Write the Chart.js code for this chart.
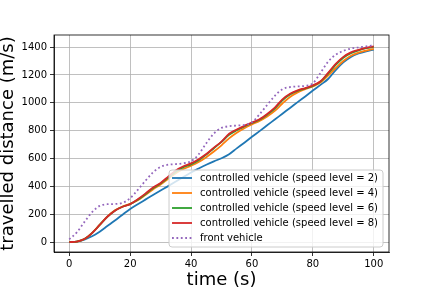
<!DOCTYPE html>
<html>
<head>
<meta charset="utf-8">
<script src="https://cdn.jsdelivr.net/npm/chart.js@4"></script>
<style>
  body { margin: 0; background: #fff; }
  canvas { display: block; }
</style>
</head>
<body>
<canvas id="myChart" width="432" height="288"></canvas>
<script>
// tijd (s)
var time = [0, 2.5, 5, 7.5, 10, 12.5, 15, 17.5, 20, 22.5, 25, 27.5, 30, 32.5, 35, 37.5, 40,
  42.5, 45, 47.5, 50, 52.5, 55, 57.5, 60, 62.5, 65, 67.5, 70, 72.5, 75, 77.5, 80,
  82.5, 85, 87.5, 90, 92.5, 95, 97.5, 100];

var speed2 = [0, 3, 18, 42, 75, 115, 155, 197, 238, 272, 305, 338, 370, 402, 435, 468, 500,
  528, 555, 580, 602, 631, 673, 714, 756, 797, 839, 880, 922, 963, 1005, 1046, 1088,
  1129, 1171, 1235, 1290, 1330, 1354, 1370, 1382];

var speed4 = [0, 4, 22, 66, 124, 183, 228, 256, 274, 300, 338, 378, 414, 455, 495, 525, 548,
  575, 610, 650, 695, 745, 785, 818, 845, 870, 902, 942, 995, 1042, 1075, 1098, 1118,
  1145, 1195, 1250, 1300, 1338, 1360, 1375, 1388];

var speed6 = [0, 4, 22, 65, 123, 181, 226, 254, 273, 304, 344, 387, 420, 463, 506, 538, 558,
  588, 628, 674, 720, 770, 803, 830, 855, 879, 915, 958, 1018, 1060, 1086, 1103, 1122,
  1152, 1210, 1272, 1324, 1356, 1377, 1392, 1402];

var speed8 = [0, 4, 22, 65, 123, 182, 226, 254, 273, 308, 348, 392, 425, 470, 515, 545, 565,
  595, 632, 678, 722, 778, 808, 835, 858, 882, 920, 965, 1025, 1065, 1090, 1106, 1125,
  1155, 1215, 1280, 1330, 1362, 1380, 1395, 1405];

var front = [20, 70, 145, 215, 260, 272, 274, 282, 315, 375, 440, 500, 540, 556, 560, 566, 580,
  630, 710, 780, 820, 832, 837, 842, 860, 918, 985, 1050, 1098, 1113, 1118, 1122, 1140,
  1215, 1295, 1345, 1373, 1390, 1398, 1405, 1415];

var labels = [
  'controlled vehicle (speed level = 2)',
  'controlled vehicle (speed level = 4)',
  'controlled vehicle (speed level = 6)',
  'controlled vehicle (speed level = 8)',
  'front vehicle'
];
var colors = ['#1f77b4', '#ff7f0e', '#2ca02c', '#d62728', '#9467bd'];
var xTicks = [0, 20, 40, 60, 80, 100];
var yTicks = [0, 200, 400, 600, 800, 1000, 1200, 1400];

function pairs(ys) {
  return time.map(function(t, i) { return {x: t, y: ys[i]}; });
}

var series = [speed2, speed4, speed6, speed8, front];
var datasets = series.map(function(s, i) {
  return {
    label: labels[i],
    data: pairs(s),
    borderColor: colors[i],
    backgroundColor: colors[i],
    borderWidth: 1.8,
    borderDash: i === 4 ? [1.8, 2.6] : [],
    pointRadius: 0,
    fill: false,
    cubicInterpolationMode: 'monotone',
    order: 4 - i   // laatste serie bovenop, zoals matplotlib
  };
});

// kader om het plotgebied + legenda in de hoek
var framePlugin = {
  id: 'frame',
  afterDraw: function(chart) {
    var ctx = chart.ctx, a = chart.chartArea;
    ctx.save();
    ctx.strokeStyle = '#000';
    ctx.lineWidth = 0.8;
    ctx.strokeRect(a.left, a.top, a.right - a.left, a.bottom - a.top);

    ctx.font = '10px "DejaVu Sans"';
    var textW = 0;
    labels.forEach(function(l) { textW = Math.max(textW, ctx.measureText(l).width); });
    var w = 4 + 20 + 8 + textW + 4;
    var h = 77;
    var x0 = a.right - 6 - w, y0 = a.bottom - 5 - h;
    ctx.beginPath();
    ctx.roundRect(x0, y0, w, h, 3);
    ctx.fillStyle = 'rgba(255,255,255,0.8)';
    ctx.fill();
    ctx.strokeStyle = '#cccccc';
    ctx.lineWidth = 1;
    ctx.stroke();

    labels.forEach(function(l, i) {
      var y = y0 + 8 + i * 15;
      ctx.beginPath();
      ctx.strokeStyle = colors[i];
      ctx.lineWidth = 1.8;
      ctx.setLineDash(i === 4 ? [1.8, 2.6] : []);
      ctx.moveTo(x0 + 3, y);
      ctx.lineTo(x0 + 23, y);
      ctx.stroke();
      ctx.setLineDash([]);
      ctx.fillStyle = '#000';
      ctx.textBaseline = 'middle';
      ctx.fillText(l, x0 + 31, y);
    });
    ctx.restore();
  }
};

var ctx = document.getElementById('myChart').getContext('2d');
var myChart = new Chart(ctx, {
  type: 'line',
  data: { datasets: datasets },
  options: {
    responsive: false,
    animation: false,
    devicePixelRatio: 1,
    layout: { padding: { top: 35, right: 43, left: 0, bottom: 0 } },
    plugins: { legend: { display: false }, tooltip: { enabled: false } },
    scales: {
      x: {
        type: 'linear',
        min: -5,
        max: 105,
        afterFit: function(s) { s.height = 36; },
        afterBuildTicks: function(s) { s.ticks = xTicks.map(function(v) { return {value: v}; }); },
        ticks: {
          color: '#000', padding: 2, font: { family: 'DejaVu Sans', size: 10 }, maxRotation: 0,
          callback: function(v) { return String(v); }
        },
        grid: { color: '#b0b0b0', lineWidth: 0.8, tickLength: 4, tickColor: '#000' },
        border: { color: '#000', width: 0.8 },
        title: {
          display: true,
          text: 'time (s)',
          color: '#000',
          font: { family: 'DejaVu Sans', size: 18, lineHeight: 1 },
          padding: { top: 0, bottom: -1 }
        }
      },
      y: {
        type: 'linear',
        min: -71,
        max: 1487,
        afterFit: function(s) { s.width = 54; },
        afterBuildTicks: function(s) { s.ticks = yTicks.map(function(v) { return {value: v}; }); },
        ticks: {
          color: '#000', padding: 3, font: { family: 'DejaVu Sans', size: 10 },
          callback: function(v) { return String(v); }
        },
        grid: { color: '#b0b0b0', lineWidth: 0.8, tickLength: 4, tickColor: '#000' },
        border: { color: '#000', width: 0.8 },
        title: {
          display: true,
          text: 'travelled distance (m/s)',
          color: '#000',
          font: { family: 'DejaVu Sans', size: 18, lineHeight: 1 },
          padding: { top: -1, bottom: 0 }
        }
      }
    }
  },
  plugins: [framePlugin]
});
</script>
</body>
</html>
